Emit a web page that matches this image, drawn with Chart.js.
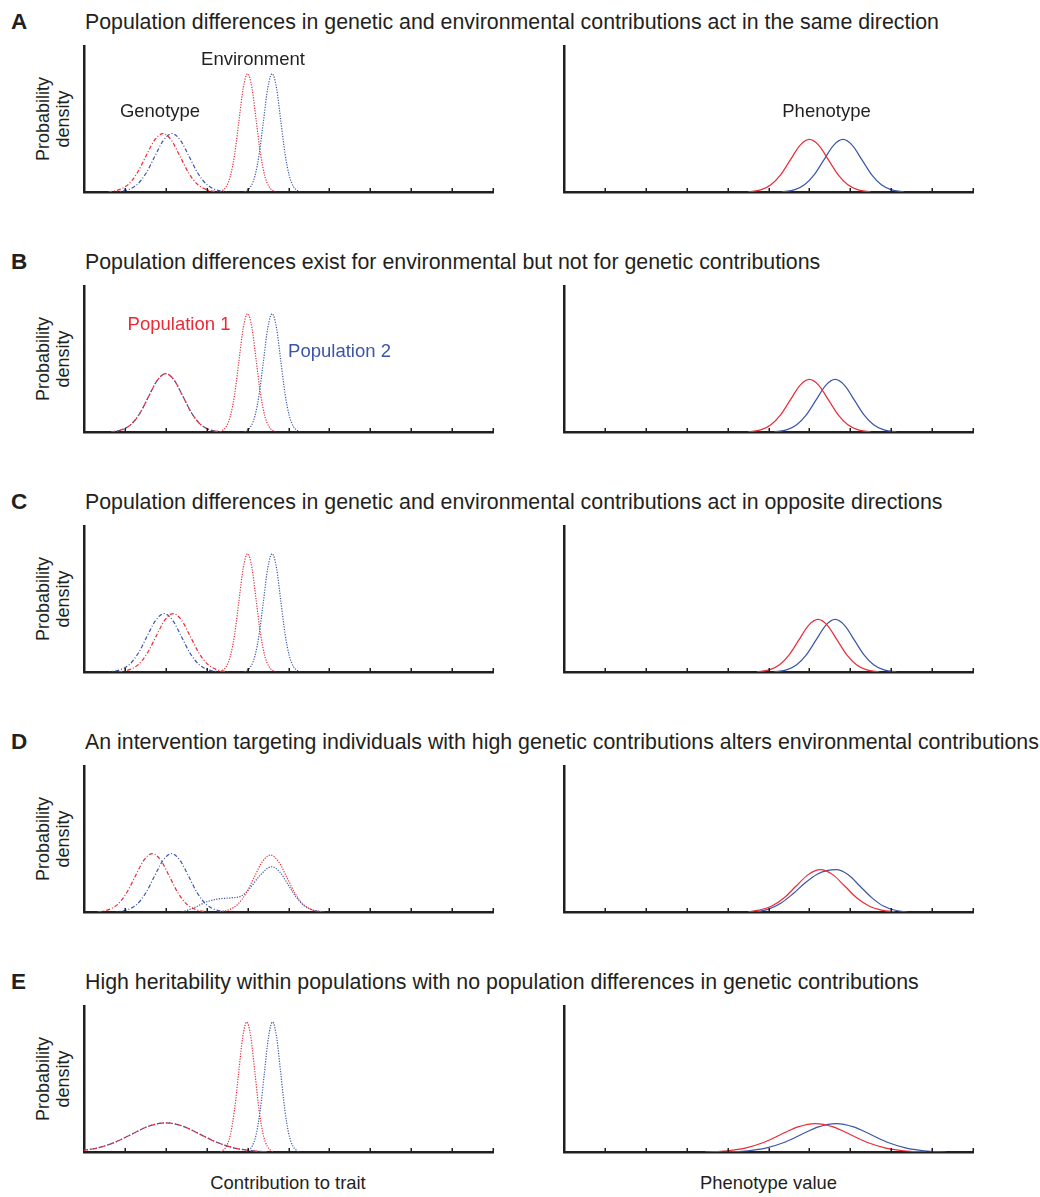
<!DOCTYPE html>
<html>
<head>
<meta charset="utf-8">
<script src="https://cdn.jsdelivr.net/npm/chart.js@4.4.1/dist/chart.umd.min.js"></script>
<style>
  body { margin: 0; background: #fff; }
  #page { position: relative; width: 1040px; height: 1197px; overflow: hidden;
          font-family: "Liberation Sans", Arial, Helvetica, sans-serif; color: #231f20; }
  .txt { position: absolute; white-space: nowrap; line-height: 1; }
  canvas { position: absolute; }
</style>
</head>
<body>
<div id="page"></div>
<script>
// panel letters and headings
const panelLetters = ['A', 'B', 'C', 'D', 'E'];
const panelTitles = [
    'Population differences in genetic and environmental contributions act in the same direction',
    'Population differences exist for environmental but not for genetic contributions',
    'Population differences in genetic and environmental contributions act in opposite directions',
    'An intervention targeting individuals with high genetic contributions alters environmental contributions',
    'High heritability within populations with no population differences in genetic contributions'
];
const xTicks = [1, 2, 3, 4, 5, 6, 7, 8, 9, 10];

// density curves, [x, density] (x axis 0-10, density 0-1 of axis height)
// row A
const aGeno1 = [[0.59,0],[0.88,0.018],[1.09,0.054],[1.30,0.130],[1.51,0.243],[1.72,0.353],[1.93,0.40],[2.14,0.353],[2.35,0.243],[2.56,0.130],[2.77,0.054],[2.98,0.018],[3.27,0]];
const aGeno2 = [[0.81,0],[1.10,0.018],[1.31,0.054],[1.52,0.130],[1.73,0.243],[1.94,0.353],[2.15,0.40],[2.36,0.353],[2.57,0.243],[2.78,0.130],[2.99,0.054],[3.20,0.018],[3.49,0]];
// environment curves are the same in rows A-C
const envPop1 = [[3.33,0],[3.475,0.036],[3.58,0.110],[3.685,0.263],[3.79,0.491],[3.895,0.715],[4.0,0.81],[4.105,0.715],[4.21,0.491],[4.315,0.263],[4.42,0.110],[4.525,0.036],[4.67,0]];
const envPop2 = [[3.93,0],[4.075,0.036],[4.18,0.110],[4.285,0.263],[4.39,0.491],[4.495,0.715],[4.6,0.81],[4.705,0.715],[4.81,0.491],[4.915,0.263],[5.02,0.110],[5.125,0.036],[5.27,0]];
const aPheno1 = [[4.5,0],[4.825,0.016],[5.06,0.049],[5.295,0.117],[5.53,0.218],[5.765,0.318],[6.0,0.36],[6.235,0.318],[6.47,0.218],[6.705,0.117],[6.94,0.049],[7.175,0.016],[7.5,0]];
const aPheno2 = [[5.32,0],[5.645,0.016],[5.88,0.049],[6.115,0.117],[6.35,0.218],[6.585,0.318],[6.82,0.36],[7.055,0.318],[7.29,0.218],[7.525,0.117],[7.76,0.049],[7.995,0.016],[8.32,0]];
// row B
const bGeno1 = [[0.66,0],[0.95,0.018],[1.16,0.054],[1.37,0.130],[1.58,0.243],[1.79,0.353],[2.0,0.40],[2.21,0.353],[2.42,0.243],[2.63,0.130],[2.84,0.054],[3.05,0.018],[3.34,0]];
const bGeno2 = [[0.66,0],[0.95,0.018],[1.16,0.054],[1.37,0.130],[1.58,0.243],[1.79,0.353],[2.0,0.40],[2.21,0.353],[2.42,0.243],[2.63,0.130],[2.84,0.054],[3.05,0.018],[3.34,0]];
const bPheno1 = [[4.5,0],[4.825,0.016],[5.06,0.049],[5.295,0.117],[5.53,0.218],[5.765,0.318],[6.0,0.36],[6.235,0.318],[6.47,0.218],[6.705,0.117],[6.94,0.049],[7.175,0.016],[7.5,0]];
const bPheno2 = [[5.13,0],[5.455,0.016],[5.69,0.049],[5.925,0.117],[6.16,0.218],[6.395,0.318],[6.63,0.36],[6.865,0.318],[7.1,0.218],[7.335,0.117],[7.57,0.049],[7.805,0.016],[8.13,0]];
// row C
const cGeno1 = [[0.84,0],[1.13,0.018],[1.34,0.054],[1.55,0.130],[1.76,0.243],[1.97,0.353],[2.18,0.40],[2.39,0.353],[2.60,0.243],[2.81,0.130],[3.02,0.054],[3.23,0.018],[3.52,0]];
const cGeno2 = [[0.62,0],[0.91,0.018],[1.12,0.054],[1.33,0.130],[1.54,0.243],[1.75,0.353],[1.96,0.40],[2.17,0.353],[2.38,0.243],[2.59,0.130],[2.80,0.054],[3.01,0.018],[3.30,0]];
const cPheno1 = [[4.71,0],[5.035,0.016],[5.27,0.049],[5.505,0.117],[5.74,0.218],[5.975,0.318],[6.21,0.36],[6.445,0.318],[6.68,0.218],[6.915,0.117],[7.15,0.049],[7.385,0.016],[7.71,0]];
const cPheno2 = [[5.13,0],[5.455,0.016],[5.69,0.049],[5.925,0.117],[6.16,0.218],[6.395,0.318],[6.63,0.36],[6.865,0.318],[7.1,0.218],[7.335,0.117],[7.57,0.049],[7.805,0.016],[8.13,0]];
// row D
const dGeno1 = [[0.33,0],[0.62,0.018],[0.83,0.054],[1.04,0.130],[1.25,0.243],[1.46,0.353],[1.67,0.40],[1.88,0.353],[2.09,0.243],[2.30,0.130],[2.51,0.054],[2.72,0.018],[3.01,0]];
const dGeno2 = [[0.80,0],[1.09,0.018],[1.30,0.054],[1.51,0.130],[1.72,0.243],[1.93,0.353],[2.14,0.40],[2.35,0.353],[2.56,0.243],[2.77,0.130],[2.98,0.054],[3.19,0.018],[3.48,0]];
const dEnv1 = [[3.26,0],[3.56,0.017],[3.76,0.053],[3.96,0.127],[4.16,0.237],[4.36,0.344],[4.56,0.39],[4.76,0.344],[4.96,0.237],[5.16,0.127],[5.36,0.053],[5.56,0.017],[5.86,0]];
const dEnv2 = [[2.4,0],[2.7,0.03],[3.0,0.07],[3.3,0.09],[3.6,0.097],[3.85,0.11],[4.05,0.16],[4.3,0.25],[4.59,0.31],[4.79,0.273],[4.99,0.188],[5.19,0.101],[5.39,0.042],[5.59,0.014],[5.89,0]];
const dPheno1 = [[4.5,0],[4.77,0.013],[5.07,0.039],[5.37,0.094],[5.67,0.176],[5.97,0.256],[6.27,0.29],[6.57,0.256],[6.87,0.176],[7.17,0.094],[7.47,0.039],[7.77,0.013],[8.1,0]];
const dPheno2 = [[4.7,0],[5.0,0.02],[5.3,0.06],[5.6,0.125],[5.9,0.2],[6.2,0.26],[6.45,0.285],[6.66,0.29],[6.95,0.255],[7.24,0.176],[7.53,0.097],[7.82,0.039],[8.1,0.012],[8.4,0]];
// row E
const eGeno1 = [[0,0.012],[0.32,0.027],[0.74,0.065],[1.16,0.121],[1.58,0.1765],[2.0,0.20],[2.42,0.1765],[2.84,0.121],[3.26,0.065],[3.68,0.027],[4.1,0.0088],[4.5,0]];
const eGeno2 = [[0,0.012],[0.32,0.027],[0.74,0.065],[1.16,0.121],[1.58,0.1765],[2.0,0.20],[2.42,0.1765],[2.84,0.121],[3.26,0.065],[3.68,0.027],[4.1,0.0088],[4.5,0]];
const eEnv1 = [[3.34,0],[3.48,0.039],[3.58,0.120],[3.68,0.289],[3.78,0.540],[3.88,0.785],[3.98,0.89],[4.08,0.785],[4.18,0.540],[4.28,0.289],[4.38,0.120],[4.48,0.039],[4.62,0]];
const eEnv2 = [[3.97,0],[4.11,0.039],[4.21,0.120],[4.31,0.289],[4.41,0.540],[4.51,0.785],[4.61,0.89],[4.71,0.785],[4.81,0.540],[4.91,0.289],[5.01,0.120],[5.11,0.039],[5.25,0]];
const ePheno1 = [[3.45,0],[4.0,0.0086],[4.43,0.026],[4.86,0.063],[5.29,0.118],[5.72,0.172],[6.15,0.195],[6.58,0.172],[7.01,0.118],[7.44,0.063],[7.87,0.026],[8.3,0.0086],[8.85,0]];
const ePheno2 = [[3.95,0],[4.5,0.0086],[4.93,0.026],[5.36,0.063],[5.79,0.118],[6.22,0.172],[6.65,0.195],[7.08,0.172],[7.51,0.118],[7.94,0.063],[8.37,0.026],[8.8,0.0086],[9.35,0]];

const rows = [
    { geno: [aGeno1, aGeno2], env: [envPop1, envPop2], pheno: [aPheno1, aPheno2] },
    { geno: [bGeno1, bGeno2], env: [envPop1, envPop2], pheno: [bPheno1, bPheno2] },
    { geno: [cGeno1, cGeno2], env: [envPop1, envPop2], pheno: [cPheno1, cPheno2] },
    { geno: [dGeno1, dGeno2], env: [dEnv1, dEnv2], pheno: [dPheno1, dPheno2] },
    { geno: [eGeno1, eGeno2], env: [eEnv1, eEnv2], pheno: [ePheno1, ePheno2] }
];

const RED = '#ec2a36';
const BLUE = '#3b55a8';
const INK = '#231f20';

const AREA_W = 409, AREA_H = 146, PAD = 6;
const LEFT_X = 84, RIGHT_X = 563.5, TOP_Y = 46, ROW_STEP = 240;

const page = document.getElementById('page');

function addText(text, x, baseline, size, opts = {}) {
    const d = document.createElement('div');
    d.className = 'txt';
    d.textContent = text;
    d.style.fontSize = size + 'px';
    d.style.top = (baseline - 0.8465 * size) + 'px';
    d.style.left = x + 'px';
    if (opts.center) d.style.transform = 'translateX(-50%)';
    if (opts.bold) d.style.fontWeight = 'bold';
    if (opts.color) d.style.color = opts.color;
    page.appendChild(d);
}

function addYLabel(cx, cy) {
    const d = document.createElement('div');
    d.className = 'txt';
    d.innerHTML = 'Probability<br>density';
    d.style.fontSize = '18px';
    d.style.lineHeight = '20px';
    d.style.textAlign = 'center';
    d.style.width = '120px';
    d.style.height = '40px';
    d.style.left = (cx - 60) + 'px';
    d.style.top = (cy - 20) + 'px';
    d.style.transform = 'rotate(-90deg)';
    page.appendChild(d);
}

const innerTicks = {
    id: 'innerTicks',
    afterDraw(chart) {
        const { ctx, chartArea, scales: { x } } = chart;
        ctx.save();
        ctx.strokeStyle = INK;
        ctx.lineWidth = 1.5;
        xTicks.forEach(v => {
            const px = Math.round(x.getPixelForValue(v)) + 0.25;
            ctx.beginPath();
            ctx.moveTo(px, chartArea.bottom);
            ctx.lineTo(px, chartArea.bottom - 4);
            ctx.stroke();
        });
        ctx.restore();
    }
};

function curve(pts, color, dash, dashOffset = 0) {
    return {
        data: pts.map(([x, y]) => ({ x, y })),
        borderColor: color,
        borderDash: dash,
        borderDashOffset: dashOffset,
        borderWidth: 1.2,
        fill: false,
        pointRadius: 0,
        cubicInterpolationMode: 'monotone'
    };
}

function makePanel(left, top, datasets) {
    const cv = document.createElement('canvas');
    cv.width = AREA_W + 2 * PAD;
    cv.height = AREA_H + 2 * PAD;
    cv.style.left = (left - PAD) + 'px';
    cv.style.top = (top - PAD) + 'px';
    page.appendChild(cv);
    const axis = (min, max) => ({
        type: 'linear', min, max,
        grid: { display: false, drawTicks: false },
        ticks: { display: false },
        border: { display: true, color: INK, width: 2.5 }
    });
    new Chart(cv.getContext('2d'), {
        type: 'line',
        data: { datasets },
        options: {
            responsive: false,
            animation: false,
            layout: { padding: PAD },
            plugins: { legend: { display: false }, tooltip: { enabled: false } },
            scales: { x: axis(0, 10), y: axis(0, 1) }
        },
        plugins: [innerTicks]
    });
}

const GENO_DASH = [4, 2, 1, 2];
const ENV_DASH = [1.2, 1.4];

rows.forEach((row, i) => {
    const top = TOP_Y + ROW_STEP * i;
    addText(panelLetters[i], 11, 30 + ROW_STEP * i, 22.5, { bold: true });
    addText(panelTitles[i], 85, 30 + ROW_STEP * i, 21.35);
    addYLabel(53, top + AREA_H / 2);
    makePanel(LEFT_X, top, [
        curve(row.geno[0], RED, GENO_DASH),
        curve(row.geno[1], BLUE, GENO_DASH, 3),
        curve(row.env[0], RED, ENV_DASH),
        curve(row.env[1], BLUE, ENV_DASH)
    ]);
    makePanel(RIGHT_X, top, [
        curve(row.pheno[0], RED, []),
        curve(row.pheno[1], BLUE, [])
    ]);
});

// annotations
addText('Environment', 253, 66, 18.5, { center: true });
addText('Genotype', 160, 118, 18.5, { center: true });
addText('Phenotype', 826.5, 118, 18.5, { center: true });
addText('Population 1', 179, 331, 18.5, { center: true, color: RED });
addText('Population 2', 339.5, 358, 18.5, { center: true, color: BLUE });
addText('Contribution to trait', 288, 1190, 18.4, { center: true });
addText('Phenotype value', 768.5, 1190, 18.4, { center: true });
</script>
</body>
</html>
